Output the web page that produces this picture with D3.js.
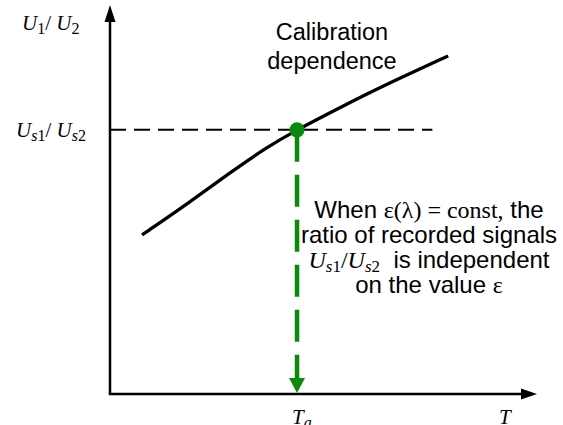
<!DOCTYPE html>
<html><head><meta charset="utf-8">
<script src="https://cdn.jsdelivr.net/npm/d3@7"></script>
<style>body{margin:0;background:#fff}</style>
</head><body>
<svg id="c" width="563" height="425"></svg>
<script>
// Calibration curve (arbitrary units, 0-100 on each axis)
const curveT = [7.5, 18, 28.1, 36.8, 43.8, 50.8, 60.2, 69.6, 79.2];
const curveRatio = [40.9, 48.8, 56.9, 63.5, 67.9, 71.9, 77.2, 82.1, 86.9];
const Ta = 43.8;          // temperature where ratio equals measured
const UsRatio = 67.9;     // measured ratio Us1/Us2
const dashEnd = 75.5;     // end of horizontal dashed line (T units)
const curveLabel = ["Calibration", "dependence"];

const svg = d3.select("#c");
const x = d3.scaleLinear().domain([0, 100]).range([110, 537]);
const y = d3.scaleLinear().domain([0, 100]).range([394, 5]);
const serif = "'Liberation Serif','Times New Roman',serif";
const sans = "'Liberation Sans',Arial,sans-serif";
const green = "#0a8a0a";

// axes
svg.append("line").attr("x1", x(0)).attr("y1", y(0)).attr("x2", x(0)).attr("y2", y(100) + 14)
  .attr("stroke", "#000").attr("stroke-width", 2.5);
svg.append("line").attr("x1", x(0) - 1.2).attr("y1", y(0)).attr("x2", x(100) - 14).attr("y2", y(0))
  .attr("stroke", "#000").attr("stroke-width", 2.5);
svg.append("path").attr("d", `M${x(0)},${y(100)} L${x(0)-5.5},${y(100)+17} L${x(0)+5.5},${y(100)+17} Z`).attr("fill", "#000");
svg.append("path").attr("d", `M${x(100)},${y(0)} L${x(100)-16},${y(0)-5.5} L${x(100)-16},${y(0)+5.5} Z`).attr("fill", "#000");

// horizontal dashed
svg.append("line").attr("x1", x(0)).attr("x2", x(dashEnd)).attr("y1", y(UsRatio)).attr("y2", y(UsRatio))
  .attr("stroke", "#000").attr("stroke-width", 2).attr("stroke-dasharray", "16,8");

// calibration curve
const pts = curveT.map((t, i) => [t, curveRatio[i]]);
svg.append("path").datum(pts)
  .attr("d", d3.line().x(d => x(d[0])).y(d => y(d[1])).curve(d3.curveBasis))
  .attr("fill", "none").attr("stroke", "#000").attr("stroke-width", 3.3);

// green vertical dashed arrow
svg.append("line").attr("x1", x(Ta)).attr("x2", x(Ta)).attr("y1", y(UsRatio)).attr("y2", y(0) - 14)
  .attr("stroke", green).attr("stroke-width", 4.5).attr("stroke-dasharray", "32,13");
svg.append("path").attr("d", `M${x(Ta)},${y(0)-1} L${x(Ta)-8},${y(0)-16} L${x(Ta)+8},${y(0)-16} Z`).attr("fill", green);
svg.append("circle").attr("cx", x(Ta)).attr("cy", y(UsRatio)).attr("r", 7.5).attr("fill", green);

// y labels
function ratioLabel(xp, yp, sub1, sub2) {
  const t = svg.append("text").attr("x", xp).attr("y", yp).attr("font-family", serif)
    .attr("font-size", 21).attr("fill", "#000");
  t.append("tspan").attr("font-style", "italic").text("U");
  sub1.forEach((s, i) => t.append("tspan").attr("dy", i === 0 ? 4 : null).attr("font-size", 16)
    .attr("font-style", /\d/.test(s) ? "normal" : "italic").text(s));
  t.append("tspan").attr("dy", -4).text("/ ");
  t.append("tspan").attr("font-style", "italic").text("U");
  sub2.forEach((s, i) => t.append("tspan").attr("dy", i === 0 ? 4 : null).attr("font-size", 16)
    .attr("font-style", /\d/.test(s) ? "normal" : "italic").text(s));
  return t;
}
ratioLabel(22, 30, ["1"], ["2"]);
ratioLabel(16, 137, ["s", "1"], ["s", "2"]);

// x labels
const ta = svg.append("text").attr("x", x(Ta) - 5).attr("y", 424).attr("font-family", serif)
  .attr("font-style", "italic").attr("font-size", 21);
ta.append("tspan").text("T");
ta.append("tspan").attr("dy", 4).attr("font-size", 16).text("a");
svg.append("text").attr("x", 499).attr("y", 424).attr("font-family", serif)
  .attr("font-style", "italic").attr("font-size", 21).text("T");

// curve label
curveLabel.forEach((s, i) => {
  svg.append("text").attr("x", 332).attr("y", 40 + i * 29).attr("text-anchor", "middle")
    .attr("font-family", sans).attr("font-size", 23.5).text(s);
});

// annotation
const ax = 429, fs = 24;
const l1 = svg.append("text").attr("x", ax).attr("y", 218).attr("text-anchor", "middle").attr("font-size", fs).attr("font-family", sans);
l1.append("tspan").text("When ");
l1.append("tspan").attr("font-family", serif).text("ε(λ) = const,");
l1.append("tspan").text(" the");
svg.append("text").attr("x", ax).attr("y", 243).attr("text-anchor", "middle").attr("font-size", fs).attr("font-family", sans)
  .text("ratio of recorded signals");
const l3 = svg.append("text").attr("x", ax).attr("y", 268).attr("text-anchor", "middle").attr("font-size", fs).attr("font-family", sans);
l3.append("tspan").attr("font-family", serif).attr("font-style", "italic").text("U");
l3.append("tspan").attr("font-family", serif).attr("font-style", "italic").attr("font-size", 17).attr("dy", 4).text("s");
l3.append("tspan").attr("font-family", serif).attr("font-size", 17).text("1");
l3.append("tspan").attr("font-family", serif).attr("dy", -4).text("/");
l3.append("tspan").attr("font-family", serif).attr("font-style", "italic").text("U");
l3.append("tspan").attr("font-family", serif).attr("font-style", "italic").attr("font-size", 17).attr("dy", 4).text("s");
l3.append("tspan").attr("font-family", serif).attr("font-size", 17).text("2");
l3.append("tspan").attr("dy", -4).text("\u00a0 is independent");
const l4 = svg.append("text").attr("x", ax).attr("y", 293).attr("text-anchor", "middle").attr("font-size", fs).attr("font-family", sans);
l4.append("tspan").text("on the value ");
l4.append("tspan").attr("font-family", serif).text("ε");
</script>
</body></html>
